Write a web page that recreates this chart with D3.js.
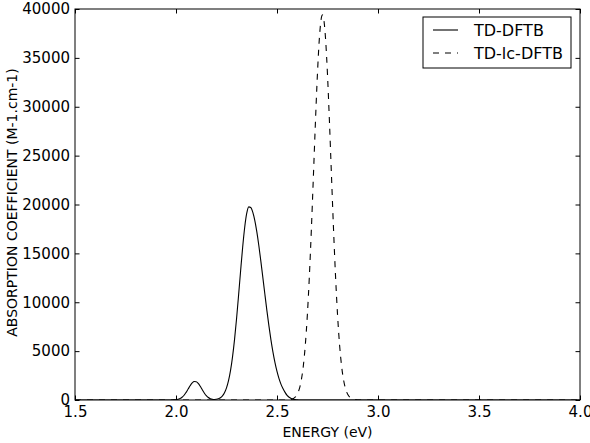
<!DOCTYPE html>
<html>
<head>
<meta charset="utf-8">
<script src="https://cdn.jsdelivr.net/npm/d3@7"></script>
<style>
  html, body { margin: 0; padding: 0; background: #fff; }
  svg { display: block; }
  text { font-family: "DejaVu Sans", sans-serif; fill: #000; }
</style>
</head>
<body>
<svg id="chart" width="590" height="443"></svg>
<script>
// ---- data ----
const xTicks = [1.5, 2.0, 2.5, 3.0, 3.5, 4.0];
const xTickLabels = ["1.5", "2.0", "2.5", "3.0", "3.5", "4.0"];
const yTicks = [0, 5000, 10000, 15000, 20000, 25000, 30000, 35000, 40000];
const yTickLabels = ["0", "5000", "10000", "15000", "20000", "25000", "30000", "35000", "40000"];
const seriesNames = ["TD-DFTB", "TD-lc-DFTB"];

const tddftbEnergy = [1.50, 1.95, 1.96, 1.97, 1.98, 1.99, 2.00, 2.01, 2.02, 2.03, 2.04, 2.05, 2.06, 2.07, 2.08, 2.09,
  2.10, 2.11, 2.12, 2.13, 2.14, 2.15, 2.16, 2.17, 2.18, 2.19, 2.20, 2.21, 2.22, 2.23, 2.24, 2.25, 2.26, 2.27, 2.28, 2.29,
  2.30, 2.31, 2.32, 2.33, 2.34, 2.35, 2.36, 2.37, 2.38, 2.39, 2.40, 2.41, 2.42, 2.43, 2.44, 2.45, 2.46, 2.47, 2.48, 2.49,
  2.50, 2.51, 2.52, 2.53, 2.54, 2.55, 2.56, 2.57, 2.58, 2.59, 2.60, 2.61, 2.62, 4.00];
const tddftbAbs = [0, 0, 0, 2, 5, 13, 32, 72, 150, 282, 485, 785, 1120, 1460, 1740, 1890,
  1875, 1695, 1400, 1050, 720, 438, 253, 136, 76, 57, 73, 127, 236, 426, 743, 1240, 1980, 3029, 4442, 6229,
  8367, 10764, 13254, 15632, 17652, 19087, 19761, 19701, 19224, 18381, 17218, 15805, 14212, 12524, 10813, 9146, 7581, 6156, 4899, 3819,
  2917, 2184, 1600, 1150, 780, 470, 280, 160, 85, 40, 15, 5, 0, 0];

const tdlcEnergy = [1.50, 2.56, 2.57, 2.58, 2.59, 2.60, 2.61, 2.62, 2.63, 2.64, 2.65, 2.66, 2.67, 2.68, 2.69,
  2.70, 2.71, 2.72, 2.725, 2.73, 2.74, 2.75, 2.76, 2.77, 2.78, 2.79, 2.80, 2.81, 2.82, 2.83, 2.84, 2.85, 2.86, 2.87, 2.88, 2.89, 2.90, 4.00];
const tdlcAbs = [0, 0, 60, 134, 285, 576, 1103, 1999, 3433, 5583, 8609, 12569, 17387, 22785, 28289,
  33273, 37075, 39136, 39400, 39136, 37075, 33273, 28289, 22785, 17387, 12569, 8609, 5583, 3433, 1999, 1103, 576, 285, 134, 60, 25, 0, 0];

// ---- layout ----
const W = 590, H = 443;
const m = { left: 75, right: 10, top: 9, bottom: 43 };
const pw = W - m.left - m.right, ph = H - m.top - m.bottom;

const svg = d3.select("#chart");
const g = svg.append("g").attr("transform", `translate(${m.left},${m.top})`);

const x = d3.scaleLinear().domain([1.5, 4.0]).range([0, pw]);
const y = d3.scaleLinear().domain([0, 40000]).range([ph, 0]);

const tickFs = "15px";
const labelFs = "14px";
const legendFs = "16px";

// axes with inward ticks
const xAxis = d3.axisBottom(x).tickValues(xTicks).tickFormat((d, i) => xTickLabels[i])
  .tickSizeInner(-4.5).tickSizeOuter(0).tickPadding(6);
const yAxis = d3.axisLeft(y).tickValues(yTicks).tickFormat((d, i) => yTickLabels[i])
  .tickSizeInner(-4.5).tickSizeOuter(0).tickPadding(5);
const xTop = d3.axisTop(x).tickValues(xTicks).tickFormat("").tickSizeInner(-4.5).tickSizeOuter(0);
const yRight = d3.axisRight(y).tickValues(yTicks).tickFormat("").tickSizeInner(-4.5).tickSizeOuter(0);

// clip for data
svg.append("defs").append("clipPath").attr("id", "clip")
  .append("rect").attr("x", 0).attr("y", -2).attr("width", pw).attr("height", ph + 2);

const line = d3.line().x(d => x(d[0])).y(d => y(d[1])).curve(d3.curveMonotoneX);
const solidData = tddftbEnergy.map((e, i) => [e, tddftbAbs[i]]);
const dashData = tdlcEnergy.map((e, i) => [e, tdlcAbs[i]]);

const dataG = g.append("g").attr("clip-path", "url(#clip)");
dataG.append("path").datum(solidData).attr("d", line)
  .attr("fill", "none").attr("stroke", "#000").attr("stroke-width", 1.1);
dataG.append("path").datum(dashData).attr("d", line)
  .attr("fill", "none").attr("stroke", "#000").attr("stroke-width", 1.1)
  .attr("stroke-dasharray", "6,6");

const gx = g.append("g").attr("transform", `translate(0,${ph})`).call(xAxis);
const gy = g.append("g").call(yAxis);
const gt = g.append("g").call(xTop);
const gr = g.append("g").attr("transform", `translate(${pw},0)`).call(yRight);
[gx, gy, gt, gr].forEach(a => {
  a.select(".domain").remove();
  a.selectAll("line").attr("stroke", "#000").attr("stroke-width", 1);
  a.selectAll("text").style("font-family", "DejaVu Sans, sans-serif").style("font-size", tickFs).attr("fill", "#000");
});

// frame
g.append("rect").attr("x", 0).attr("y", 0).attr("width", pw).attr("height", ph)
  .attr("fill", "none").attr("stroke", "#000").attr("stroke-width", 1);

// axis labels
svg.append("text").attr("x", m.left + pw / 2).attr("y", 437)
  .attr("text-anchor", "middle").style("font-size", labelFs).text("ENERGY (eV)");
svg.append("text").attr("transform", `translate(17,${m.top + ph / 2 - 2}) rotate(-90)`)
  .attr("text-anchor", "middle").style("font-size", labelFs).text("ABSORPTION COEFFICIENT (M-1.cm-1)");

// legend
const lg = svg.append("g");
lg.append("rect").attr("x", 423).attr("y", 17).attr("width", 148).attr("height", 51)
  .attr("fill", "#fff").attr("stroke", "#000").attr("stroke-width", 1);
const legendY = [30, 53];
seriesNames.forEach((name, i) => {
  lg.append("line").attr("x1", 433).attr("x2", 458).attr("y1", legendY[i]).attr("y2", legendY[i])
    .attr("stroke", "#000").attr("stroke-width", 1.1)
    .attr("stroke-dasharray", i === 1 ? "6,6" : null);
  lg.append("text").attr("x", 474).attr("y", legendY[i]).attr("dy", "0.36em")
    .style("font-size", legendFs).text(name);
});
</script>
</body>
</html>
